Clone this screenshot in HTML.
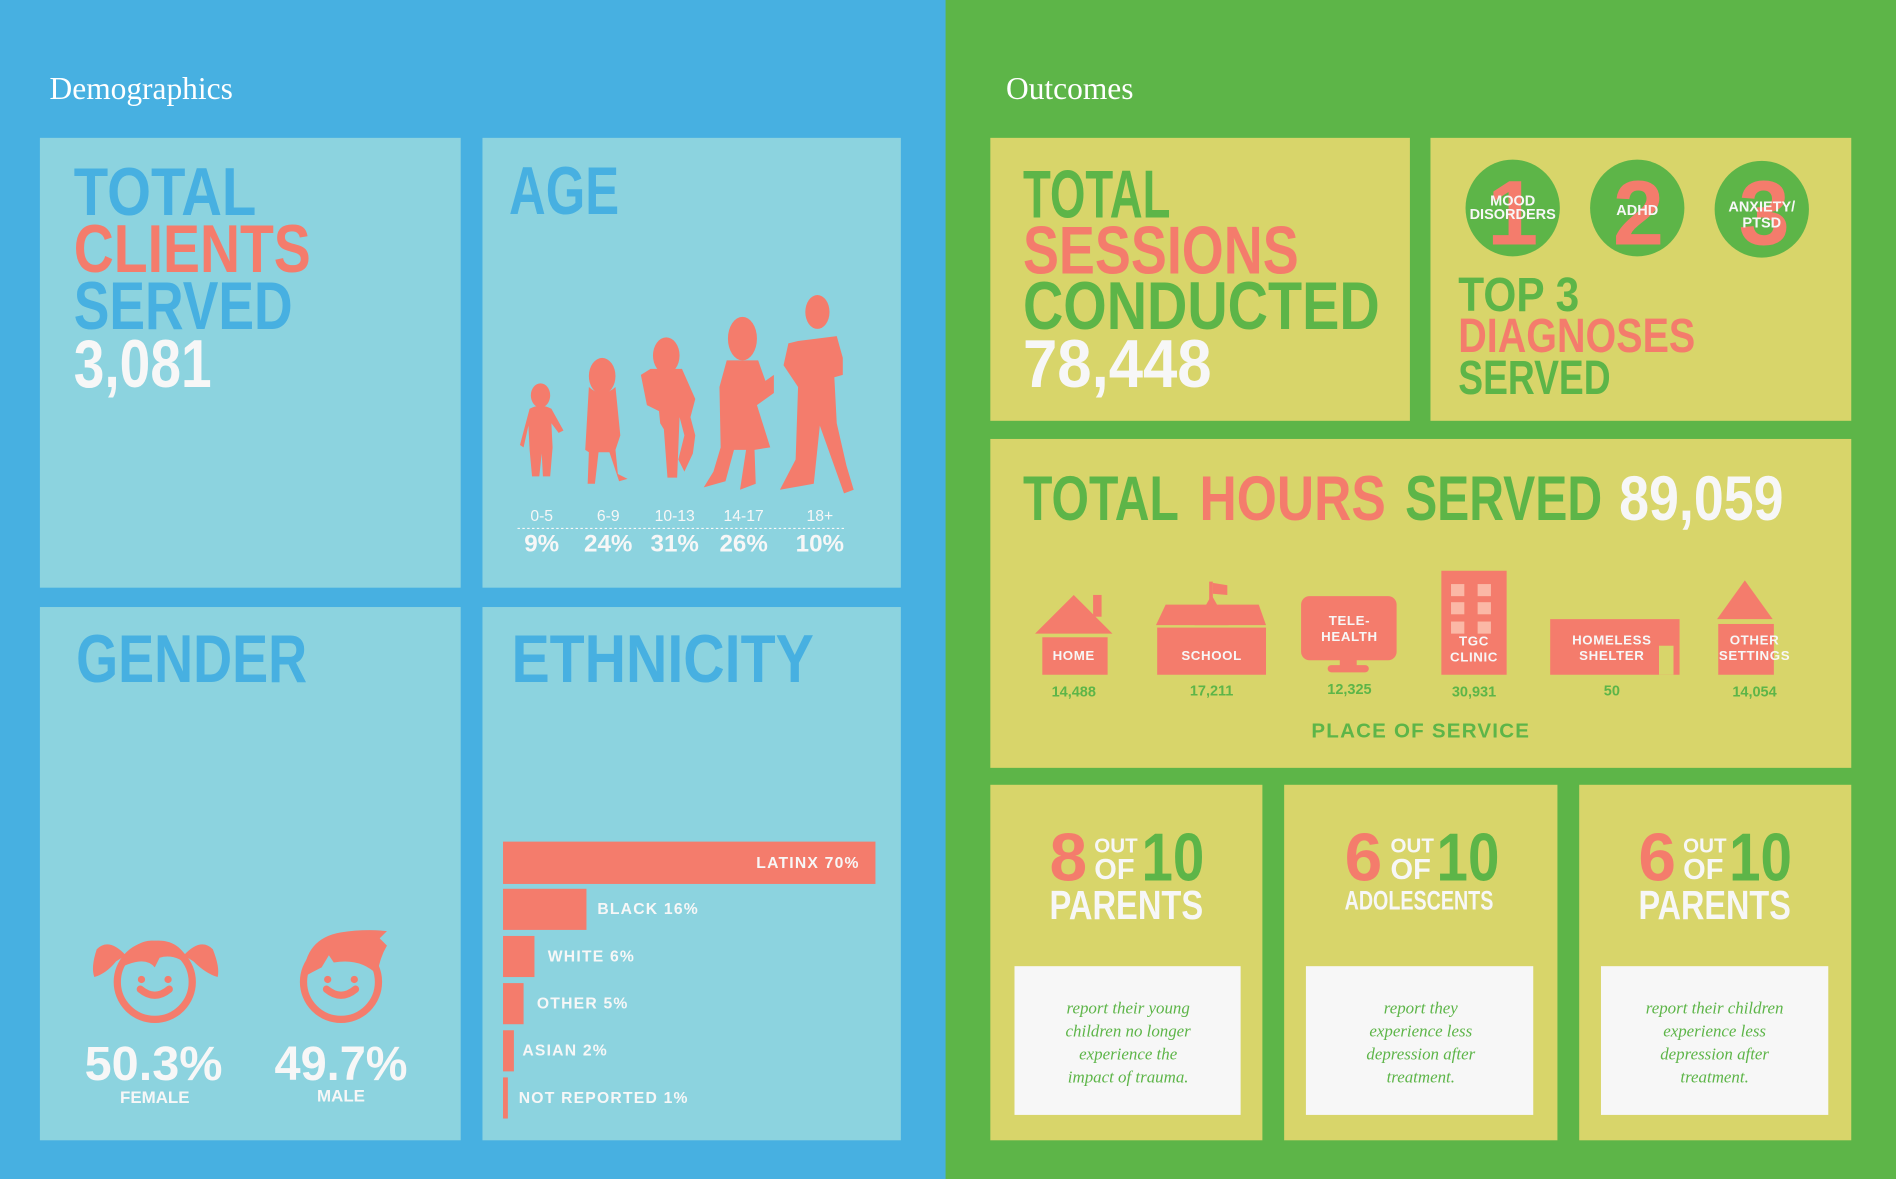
<!DOCTYPE html>
<html><head><meta charset="utf-8"><style>
html,body{margin:0;padding:0;background:#47b0e1;}
svg{display:block}
.b{font-family:"Liberation Sans Narrow","Liberation Sans",sans-serif;font-weight:bold}
.s{font-family:"Liberation Serif",serif}
.i{font-family:"Liberation Serif",serif;font-style:italic;fill:#5db548;font-size:14px}
</style></head><body>
<svg width="1896" height="1179" viewBox="0 0 1568 975" preserveAspectRatio="none" xmlns="http://www.w3.org/2000/svg">
<rect x="0" y="0" width="782" height="975" fill="#47b0e1"/>
<rect x="782" y="0" width="786" height="975" fill="#5db548"/>
<text x="41" y="82" class="s" font-size="26" fill="#fff">Demographics</text>
<text x="832" y="82" class="s" font-size="26" fill="#fff">Outcomes</text>

<rect x="33" y="114" width="348" height="372" fill="#8cd3df"/>
<rect x="399" y="114" width="346" height="372" fill="#8cd3df"/>
<rect x="33" y="502" width="348" height="441" fill="#8cd3df"/>
<rect x="399" y="502" width="346" height="441" fill="#8cd3df"/>

<g class="b" font-size="56">
<text x="61" y="178" fill="#47b0e1" textLength="151" lengthAdjust="spacingAndGlyphs">TOTAL</text>
<text x="61" y="225" fill="#f47c6c" textLength="196" lengthAdjust="spacingAndGlyphs">CLIENTS</text>
<text x="61" y="272" fill="#47b0e1" textLength="181" lengthAdjust="spacingAndGlyphs">SERVED</text>
<text x="61" y="320" fill="#f7f7f7" textLength="114" lengthAdjust="spacingAndGlyphs">3,081</text>
<text x="421" y="177" fill="#47b0e1" textLength="91" lengthAdjust="spacingAndGlyphs">AGE</text>
<text x="63" y="564" fill="#47b0e1" textLength="191" lengthAdjust="spacingAndGlyphs">GENDER</text>
<text x="423" y="564" fill="#47b0e1" textLength="250" lengthAdjust="spacingAndGlyphs">ETHNICITY</text>
</g>

<g fill="#f47c6c">
<ellipse cx="447" cy="327" rx="8" ry="10"/>
<path d="M438 338 Q447 333 456 338 L466 356 L462 358 L456 350 L457 370 L455 394 L449 394 L448 375 L446 394 L440 394 L438 372 L437 352 L433 370 L430 368 Z"/>
<ellipse cx="498" cy="311" rx="11" ry="15"/>
<path d="M487 320 Q498 330 509 320 L513 360 L509 372 L511 392 L519 396 L512 398 L504 374 L495 374 L492 400 L486 400 L487 374 L484 372 Z"/>
<ellipse cx="551" cy="294" rx="11" ry="15"/>
<path d="M538 305 L564 305 L575 330 L571 345 L575 360 L573 375 L566 390 L561 380 L566 360 L562 345 L560 395 L552 395 L549 355 L546 350 L545 340 L535 335 L530 310 Z"/>
<ellipse cx="614" cy="280" rx="12" ry="18"/>
<path d="M601 298 L627 298 L633 315 L640 310 L640 325 L626 335 L637 370 L624 372 L625 400 L612 405 L617 372 L607 372 L600 398 L582 403 L590 390 L596 370 L595 320 Z"/>
<ellipse cx="676" cy="258" rx="10" ry="14"/>
<path d="M660 282 L692 278 L697 296 L697 310 L690 312 L692 350 L700 385 L706 405 L698 408 L678 352 L673 400 L662 402 L645 405 L658 380 L660 320 L648 302 L652 284 Z"/>
</g>
<line x1="428" y1="437" x2="700" y2="437" stroke="#f7f7f7" stroke-width="1" stroke-dasharray="2,2"/>
<g class="b" fill="#f7f7f7" text-anchor="middle">
<g font-size="13" font-weight="normal"><text x="448" y="431">0-5</text><text x="503" y="431">6-9</text><text x="558" y="431">10-13</text><text x="615" y="431">14-17</text><text x="678" y="431">18+</text></g>
<g font-size="20"><text x="448" y="456">9%</text><text x="503" y="456">24%</text><text x="558" y="456">31%</text><text x="615" y="456">26%</text><text x="678" y="456">10%</text></g>
</g>

<g fill="none" stroke="#f47c6c" stroke-width="6" stroke-linecap="round">
<circle cx="128" cy="812" r="31"/><path d="M116 818 Q128 828 140 818"/>
<circle cx="282" cy="812" r="31"/><path d="M270 818 Q282 828 294 818"/>
</g>
<g fill="#f47c6c">
<circle cx="139" cy="810" r="3"/><circle cx="117" cy="810" r="3"/>
<circle cx="293" cy="810" r="3"/><circle cx="271" cy="810" r="3"/>
<path d="M100 800 Q110 776 128 778 Q150 776 158 800 Q145 788 132 792 L128 800 Q120 790 100 800 Z"/>
<path d="M104 790 Q90 775 80 785 Q75 800 78 808 Q88 805 96 795 Z"/>
<path d="M152 790 Q166 775 176 785 Q182 800 180 808 Q170 805 160 795 Z"/>
<path d="M251 808 Q252 776 282 771 Q302 768 320 770 L314 776 L320 782 Q314 792 312 806 Q298 792 276 796 L272 790 L266 800 Q258 804 251 808 Z"/>
</g>
<g class="b" fill="#f7f7f7" text-anchor="middle">
<text x="127" y="893" font-size="40" textLength="114" lengthAdjust="spacingAndGlyphs">50.3%</text>
<text x="282" y="893" font-size="40" textLength="110" lengthAdjust="spacingAndGlyphs">49.7%</text>
<text x="128" y="912" font-size="14">FEMALE</text>
<text x="282" y="911" font-size="14">MALE</text>
</g>

<g fill="#f47c6c">
<rect x="416" y="696" width="308" height="35"/>
<rect x="416" y="735" width="69" height="34"/>
<rect x="416" y="774" width="26" height="34"/>
<rect x="416" y="813" width="17" height="34"/>
<rect x="416" y="852" width="9" height="34"/>
<rect x="416" y="891" width="4" height="34"/>
</g>
<g class="b" fill="#f7f7f7" font-size="13" letter-spacing="1">
<text x="711" y="718" text-anchor="end">LATINX  70%</text>
<text x="494" y="756">BLACK  16%</text>
<text x="453" y="795">WHITE  6%</text>
<text x="444" y="834">OTHER  5%</text>
<text x="432" y="873">ASIAN  2%</text>
<text x="429" y="912">NOT REPORTED 1%</text>
</g>

<g fill="#d8d56a">
<rect x="819" y="114" width="347" height="234"/>
<rect x="1183" y="114" width="348" height="234"/>
<rect x="819" y="363" width="712" height="272"/>
<rect x="819" y="649" width="225" height="294"/>
<rect x="1062" y="649" width="226" height="294"/>
<rect x="1306" y="649" width="225" height="294"/>
</g>
<g class="b" font-size="56">
<text x="846" y="180" fill="#5db548" textLength="122" lengthAdjust="spacingAndGlyphs">TOTAL</text>
<text x="846" y="226" fill="#f47c6c" textLength="228" lengthAdjust="spacingAndGlyphs">SESSIONS</text>
<text x="846" y="272" fill="#5db548" textLength="295" lengthAdjust="spacingAndGlyphs">CONDUCTED</text>
<text x="846" y="320" fill="#f7f7f7" textLength="156" lengthAdjust="spacingAndGlyphs">78,448</text>
</g>
<g class="b" font-size="40">
<text x="1206" y="257" fill="#5db548" textLength="100" lengthAdjust="spacingAndGlyphs">TOP 3</text>
<text x="1206" y="291" fill="#f47c6c" textLength="196" lengthAdjust="spacingAndGlyphs">DIAGNOSES</text>
<text x="1206" y="326" fill="#5db548" textLength="126" lengthAdjust="spacingAndGlyphs">SERVED</text>
</g>
<g fill="#5db548">
<ellipse cx="1251" cy="172" rx="39" ry="40"/>
<ellipse cx="1354" cy="172" rx="39" ry="40"/>
<ellipse cx="1457" cy="173" rx="39" ry="40"/>
</g>
<g class="b" fill="#f47c6c" font-size="76" text-anchor="middle">
<text x="1251" y="202">1</text><text x="1355" y="202">2</text><text x="1459" y="202">3</text>
</g>
<g class="b" fill="#f7f7f7" font-size="12" text-anchor="middle">
<text x="1251" y="170">MOOD</text><text x="1251" y="181">DISORDERS</text>
<text x="1354" y="178">ADHD</text>
<text x="1457" y="175">ANXIETY/</text><text x="1457" y="188">PTSD</text>
</g>

<g class="b" font-size="52">
<text x="846" y="430" fill="#5db548" textLength="129" lengthAdjust="spacingAndGlyphs">TOTAL</text>
<text x="992" y="430" fill="#f47c6c" textLength="154" lengthAdjust="spacingAndGlyphs">HOURS</text>
<text x="1162" y="430" fill="#5db548" textLength="163" lengthAdjust="spacingAndGlyphs">SERVED</text>
<text x="1339" y="430" fill="#f7f7f7" textLength="136" lengthAdjust="spacingAndGlyphs">89,059</text>
</g>

<g fill="#f47c6c">
<polygon points="856,524 888,492 920,524"/><rect x="904" y="492" width="7" height="18"/>
<rect x="862" y="527" width="54" height="31"/>
<polygon points="956,517 964,500 1041,500 1047,517"/><polygon points="988,517 1002,492 1016,517"/>
<rect x="957" y="519" width="90" height="39"/>
<rect x="1000" y="481" width="3" height="20"/><polygon points="1003,482 1015,484 1015,492 1003,491"/>
<rect x="1076" y="493" width="79" height="53" rx="7"/><rect x="1108" y="544" width="14" height="8"/><rect x="1098" y="550" width="34" height="6" rx="3"/>
<rect x="1192" y="472" width="54" height="86"/>
<rect x="1282" y="512" width="107" height="46"/>
<polygon points="1420,512 1443,480 1466,512"/>
<rect x="1421" y="516" width="46" height="42"/>
</g>
<g fill="#fbb8a6">
<rect x="1200" y="483" width="11" height="10"/><rect x="1222" y="483" width="11" height="10"/>
<rect x="1200" y="498" width="11" height="10"/><rect x="1222" y="498" width="11" height="10"/>
<rect x="1200" y="514" width="11" height="10"/><rect x="1222" y="514" width="11" height="10"/>
</g>
<rect x="1372" y="534" width="12" height="24" fill="#d8d56a"/>
<g class="b" fill="#f7f7f7" font-size="11" text-anchor="middle" letter-spacing="0.5">
<text x="888" y="546">HOME</text>
<text x="1002" y="546">SCHOOL</text>
<text x="1116" y="517">TELE-</text><text x="1116" y="530">HEALTH</text>
<text x="1219" y="534">TGC</text><text x="1219" y="547">CLINIC</text>
<text x="1333" y="533">HOMELESS</text><text x="1333" y="546">SHELTER</text>
<text x="1451" y="533">OTHER</text><text x="1451" y="546">SETTINGS</text>
</g>
<g class="b" fill="#5db548" font-size="12" text-anchor="middle">
<text x="888" y="576">14,488</text><text x="1002" y="575">17,211</text><text x="1116" y="574">12,325</text>
<text x="1219" y="576">30,931</text><text x="1333" y="575">50</text><text x="1451" y="576">14,054</text>
<text x="1175" y="610" font-size="17" letter-spacing="1">PLACE OF SERVICE</text>
</g>

<g class="b">
<text x="868" y="728" font-size="56" fill="#f47c6c">8</text>
<text x="905" y="705" font-size="17" fill="#f7f7f7">OUT</text>
<text x="905" y="727" font-size="24" fill="#f7f7f7">OF</text>
<text x="944" y="728" font-size="56" fill="#5db548" textLength="52" lengthAdjust="spacingAndGlyphs">10</text>
<text x="868" y="760" font-size="34" fill="#f7f7f7" textLength="127" lengthAdjust="spacingAndGlyphs">PARENTS</text>

<text x="1112" y="728" font-size="56" fill="#f47c6c">6</text>
<text x="1150" y="705" font-size="17" fill="#f7f7f7">OUT</text>
<text x="1150" y="727" font-size="24" fill="#f7f7f7">OF</text>
<text x="1188" y="728" font-size="56" fill="#5db548" textLength="52" lengthAdjust="spacingAndGlyphs">10</text>
<text x="1112" y="752" font-size="22" fill="#f7f7f7" textLength="123" lengthAdjust="spacingAndGlyphs">ADOLESCENTS</text>

<text x="1355" y="728" font-size="56" fill="#f47c6c">6</text>
<text x="1392" y="705" font-size="17" fill="#f7f7f7">OUT</text>
<text x="1392" y="727" font-size="24" fill="#f7f7f7">OF</text>
<text x="1430" y="728" font-size="56" fill="#5db548" textLength="52" lengthAdjust="spacingAndGlyphs">10</text>
<text x="1355" y="760" font-size="34" fill="#f7f7f7" textLength="126" lengthAdjust="spacingAndGlyphs">PARENTS</text>
</g>
<g fill="#f7f7f7">
<rect x="839" y="799" width="187" height="123"/>
<rect x="1080" y="799" width="188" height="123"/>
<rect x="1324" y="799" width="188" height="123"/>
</g>
<g class="i" text-anchor="middle">
<text x="933" y="838">report their young</text><text x="933" y="857">children no longer</text><text x="933" y="876">experience the</text><text x="933" y="895">impact of trauma.</text>
<text x="1175" y="838">report they</text><text x="1175" y="857">experience less</text><text x="1175" y="876">depression after</text><text x="1175" y="895">treatment.</text>
<text x="1418" y="838">report their children</text><text x="1418" y="857">experience less</text><text x="1418" y="876">depression after</text><text x="1418" y="895">treatment.</text>
</g>
</svg>
</body></html>
